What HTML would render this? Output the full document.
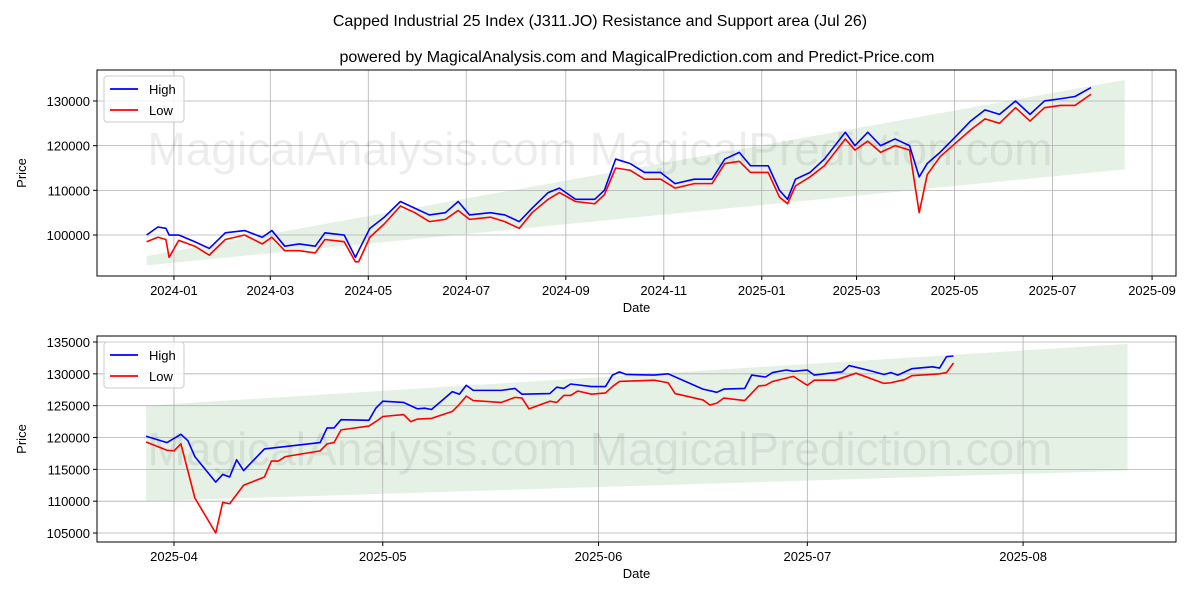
<!DOCTYPE html>
<html><head><meta charset="utf-8">
<style>
body{margin:0;background:#fff;}
svg{display:block;font-family:"Liberation Sans","DejaVu Sans",sans-serif;}
</style></head>
<body>
<svg id="chart" width="1200" height="600" xmlns="http://www.w3.org/2000/svg">
<rect width="1200" height="600" fill="#fff"/>
<text x="600" y="26" text-anchor="middle" font-size="16">Capped Industrial 25 Index (J311.JO) Resistance and Support area (Jul 26)</text>
<text x="637" y="62" text-anchor="middle" font-size="16">powered by MagicalAnalysis.com and MagicalPrediction.com and Predict-Price.com</text>
</svg>
<script>
// ---- Top chart data ----
const topHighDates=["2023-12-15","2023-12-22","2023-12-27","2023-12-29","2024-01-04","2024-01-14","2024-01-23","2024-02-02","2024-02-14","2024-02-25","2024-03-02","2024-03-10","2024-03-19","2024-03-29","2024-04-04","2024-04-16","2024-04-23","2024-04-25","2024-05-02","2024-05-11","2024-05-21","2024-05-30","2024-06-08","2024-06-18","2024-06-26","2024-07-03","2024-07-16","2024-07-25","2024-08-03","2024-08-11","2024-08-21","2024-08-28","2024-09-07","2024-09-19","2024-09-25","2024-10-02","2024-10-11","2024-10-20","2024-10-30","2024-11-08","2024-11-20","2024-12-01","2024-12-09","2024-12-18","2024-12-25","2025-01-05","2025-01-12","2025-01-17","2025-01-22","2025-01-31","2025-02-09","2025-02-22","2025-02-28","2025-03-08","2025-03-16","2025-03-25","2025-04-03","2025-04-09","2025-04-14","2025-04-22","2025-05-03","2025-05-11","2025-05-20","2025-05-29","2025-06-08","2025-06-17","2025-06-26","2025-07-06","2025-07-15","2025-07-25"];
const topHigh=[100000,101800,101500,100000,100000,98500,97000,100500,101000,99500,101000,97500,98000,97500,100500,100000,95000,96500,101500,104000,107500,106000,104500,105000,107500,104500,105000,104500,103000,106000,109500,110500,108000,108000,110000,117000,116000,114000,114000,111500,112500,112500,117000,118500,115500,115500,110000,108000,112500,114000,117000,123000,120000,123000,120000,121500,120000,113000,116000,118500,122500,125500,128000,127000,130000,127000,130000,130500,131000,133000];
const topLow=[98500,99500,99000,95000,98800,97500,95500,99000,100000,98000,99500,96500,96500,96000,99000,98500,94000,94000,99500,102500,106500,105000,103000,103500,105500,103500,104000,103000,101500,105000,108000,109500,107500,107000,109000,115000,114500,112500,112500,110500,111500,111500,116000,116500,114000,114000,108500,107000,111000,113000,115500,121500,119000,121000,118500,120000,119000,105000,113500,117500,121000,123500,126000,125000,128500,125500,128500,129000,129000,131500];
const topTickLabels=["2024-01","2024-03","2024-05","2024-07","2024-09","2024-11","2025-01","2025-03","2025-05","2025-07","2025-09"];
const topYTicks=[100000,110000,120000,130000];
const topBandDates=["2023-12-15","2025-08-15"];
const topBandLower=[93200,114700];
const topBandUpper=[95300,134700];
// ---- Bottom chart data ----
const botHighDates=["2025-03-28","2025-03-31","2025-04-02","2025-04-03","2025-04-04","2025-04-07","2025-04-08","2025-04-09","2025-04-10","2025-04-11","2025-04-14","2025-04-22","2025-04-23","2025-04-24","2025-04-25","2025-04-29","2025-04-30","2025-05-01","2025-05-04","2025-05-06","2025-05-07","2025-05-08","2025-05-11","2025-05-12","2025-05-13","2025-05-14","2025-05-18","2025-05-20","2025-05-21","2025-05-25","2025-05-26","2025-05-27","2025-05-28","2025-05-31","2025-06-02","2025-06-03","2025-06-04","2025-06-05","2025-06-09","2025-06-11","2025-06-16","2025-06-18","2025-06-19","2025-06-22","2025-06-23","2025-06-25","2025-06-26","2025-06-28","2025-06-29","2025-07-01","2025-07-02","2025-07-05","2025-07-06","2025-07-07","2025-07-10","2025-07-12","2025-07-13","2025-07-14","2025-07-16","2025-07-19","2025-07-20","2025-07-21","2025-07-22"];
const botHigh=[120200,119200,120500,119500,117000,113000,114200,113800,116500,114800,118200,119200,121500,121500,122800,122700,124600,125700,125500,124500,124600,124400,127200,126800,128200,127400,127400,127700,126800,126900,127900,127700,128400,128000,128000,129800,130300,129900,129800,130000,127600,127100,127600,127700,129800,129500,130200,130600,130400,130600,129800,130200,130300,131300,130500,129900,130200,129800,130800,131100,130900,132700,132800];
const botLowDates=["2025-03-28","2025-03-31","2025-04-01","2025-04-02","2025-04-04","2025-04-07","2025-04-08","2025-04-09","2025-04-11","2025-04-14","2025-04-15","2025-04-16","2025-04-17","2025-04-22","2025-04-23","2025-04-24","2025-04-25","2025-04-29","2025-04-30","2025-05-01","2025-05-04","2025-05-05","2025-05-06","2025-05-08","2025-05-11","2025-05-12","2025-05-13","2025-05-14","2025-05-18","2025-05-20","2025-05-21","2025-05-22","2025-05-25","2025-05-26","2025-05-27","2025-05-28","2025-05-29","2025-05-31","2025-06-02","2025-06-03","2025-06-04","2025-06-09","2025-06-11","2025-06-12","2025-06-16","2025-06-17","2025-06-18","2025-06-19","2025-06-22","2025-06-24","2025-06-25","2025-06-26","2025-06-29","2025-07-01","2025-07-02","2025-07-05","2025-07-08","2025-07-12","2025-07-13","2025-07-15","2025-07-16","2025-07-20","2025-07-21","2025-07-22"];
const botLow=[119300,118000,117900,119000,110500,105000,109800,109600,112500,113800,116300,116300,117000,117900,119000,119200,121200,121800,122500,123300,123600,122500,122900,123000,124100,125200,126500,125800,125500,126300,126200,124500,125700,125500,126600,126600,127300,126800,127000,128000,128800,129000,128600,126900,125900,125100,125400,126200,125800,128100,128200,128800,129600,128200,129000,129000,130100,128500,128600,129100,129700,130000,130200,131700];
const botTickLabels=["2025-04","2025-05","2025-06","2025-07","2025-08"];
const botYTicks=[105000,110000,115000,120000,125000,130000,135000];
const botBandDates=["2025-03-28","2025-08-16"];
const botBandLower=[110000,114800];
const botBandUpper=[125000,134700];

const NS="http://www.w3.org/2000/svg";
const svg=document.getElementById('chart');
const D=s=>Date.parse(s+(s.length===7?"-01":""));
const DAY=86400000;
function mk(tag,attrs,parent){const e=document.createElementNS(NS,tag);for(const k in attrs)e.setAttribute(k,attrs[k]);(parent||svg).appendChild(e);return e;}

function panel(cfg){
  const {L,T,R,B,x0,x1,y0,y1}=cfg;
  const xs=t=>L+(t-x0)/(x1-x0)*(R-L);
  const ys=v=>B-(v-y0)/(y1-y0)*(B-T);
  const g=mk('g',{});
  
  
  // band
  const bt0=D(cfg.bd[0]),bt1=D(cfg.bd[1]);
  const pts=[[bt0,cfg.bu[0]],[bt1,cfg.bu[1]],[bt1,cfg.bl[1]],[bt0,cfg.bl[0]]];
  const band=mk('polygon',{points:pts.map(p=>xs(p[0])+','+ys(p[1])).join(' '),fill:'#2e8b2e','fill-opacity':'0.12'},g);
  
  
  // grid + ticks
  cfg.xt.forEach(lb=>{const x=xs(D(lb));
    mk('line',{x1:x,x2:x,y1:T,y2:B,stroke:'#b0b0b0','stroke-width':0.8},g);
    mk('line',{x1:x,x2:x,y1:B,y2:B+4,stroke:'#000'},g);
    const t=mk('text',{x:x,y:B+19,'text-anchor':'middle','font-size':13},g);t.textContent=lb;
    
    });
  cfg.yt.forEach(v=>{const y=ys(v);
    mk('line',{x1:L,x2:R,y1:y,y2:y,stroke:'#b0b0b0','stroke-width':0.8},g);
    mk('line',{x1:L-4,x2:L,y1:y,y2:y,stroke:'#000'},g);
    const t=mk('text',{x:L-7,y:y+5,'text-anchor':'end','font-size':13},g);t.textContent=v;
    
    });
  // watermark
  const w=mk('text',{x:600,y:cfg.wy,'text-anchor':'middle','font-size':46,fill:'#000','fill-opacity':'0.07'},g);
  w.textContent='MagicalAnalysis.com     MagicalPrediction.com';
  
  
  // series
  const line=(dates,vals,color,name)=>{const p=mk('polyline',{points:dates.map((d,i)=>xs(D(d))+','+ys(vals[i])).join(' '),fill:'none',stroke:color,'stroke-width':1.6,'stroke-linejoin':'round'},g);
    
    };
  line(cfg.hd,cfg.h,'#0000ff','high-line');
  line(cfg.ld,cfg.l,'#ff0000','low-line');
  // frame
  mk('rect',{x:L,y:T,width:R-L,height:B-T,fill:'none',stroke:'#000','stroke-width':1},g);
  // axis titles
  const xl=mk('text',{x:(L+R)/2,y:B+36,'text-anchor':'middle','font-size':13},g);xl.textContent='Date';
  
  
  const yl=mk('text',{x:0,y:0,'text-anchor':'middle','font-size':13,transform:`translate(26,${(T+B)/2}) rotate(-90)`},g);yl.textContent='Price';
  
  
  // legend
  const lg=mk('g',{},g);
  
  
  mk('rect',{x:L+7,y:T+6,width:80,height:46,rx:3,fill:'#fff','fill-opacity':0.8,stroke:'#ccc'},lg);
  [['High','#0000ff'],['Low','#ff0000']].forEach((e,i)=>{const y=T+19+i*21;
    mk('line',{x1:L+13,x2:L+41,y1:y,y2:y,stroke:e[1],'stroke-width':1.8},lg);
    const t=mk('text',{x:L+52,y:y+5,'font-size':13},lg);t.textContent=e[0];
    
    });
}
const jan24=D("2024-01-01"),apr25=D("2025-04-01");
panel({name:'top-chart',L:97,T:70,R:1176,B:276,x0:jan24-47.9*DAY,x1:jan24+623.9*DAY,y0:90830,y1:136930,wy:165,
  xt:topTickLabels,yt:topYTicks,hd:topHighDates,h:topHigh,ld:topHighDates,l:topLow,bd:topBandDates,bl:topBandLower,bu:topBandUpper});
panel({name:'bottom-chart',L:97,T:336,R:1176,B:542,x0:apr25-11.06*DAY,x1:apr25+143.97*DAY,y0:103590,y1:135940,wy:465,
  xt:botTickLabels,yt:botYTicks,hd:botHighDates,h:botHigh,ld:botLowDates,l:botLow,bd:botBandDates,bl:botBandLower,bu:botBandUpper});
</script>
</body></html>
